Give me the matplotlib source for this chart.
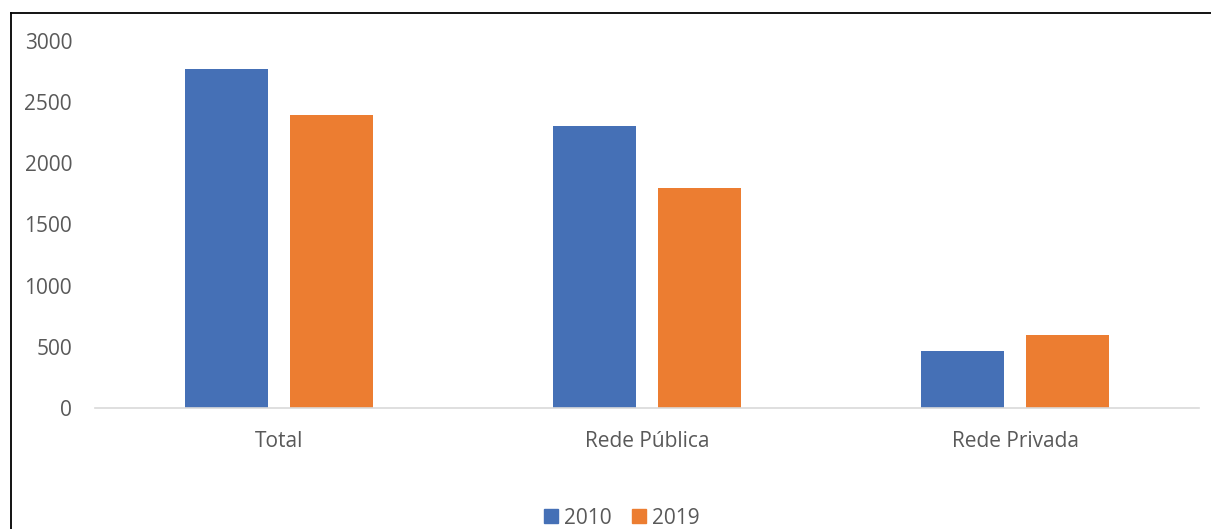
import matplotlib.pyplot as plt
from matplotlib.lines import Line2D
from matplotlib.patches import Patch
import numpy as np

categorias = ["Total", "Rede Pública", "Rede Privada"]
anos = ["2010", "2019"]
valores_2010 = [2770, 2300, 462]
valores_2019 = [2393, 1795, 593]

AZUL = "#4570B6"
LARANJA = "#EC7D31"
CINZA = "#595959"

plt.rcParams["font.family"] = ["Open Sans", "DejaVu Sans"]

W, H = 1211, 529
fig = plt.figure(figsize=(W / 100, H / 100), dpi=100)
ax = fig.add_axes([95 / W, 1 - 408 / H, (1199 - 95) / W, (408 - 40.7) / H])

x = np.arange(len(categorias))
larg = 0.224
desl = 0.1427
ax.bar(x - desl, valores_2010, larg, color=AZUL, label=anos[0])
ax.bar(x + desl, valores_2019, larg, color=LARANJA, label=anos[1])

ax.set_xlim(-0.5, 2.5)
ax.set_ylim(0, 3000)
ax.set_yticks(range(0, 3001, 500))
ax.set_xticks(x)
ax.set_xticklabels(categorias)
ax.tick_params(axis="both", length=0, labelsize=15, colors=CINZA)
ax.tick_params(axis="y", pad=16.5)
ax.tick_params(axis="x", pad=16.5)

for s in ["top", "right", "left"]:
    ax.spines[s].set_visible(False)
ax.spines["bottom"].set_color("#D9D9D9")
ax.spines["bottom"].set_linewidth(1.2)

handles = [Patch(color=AZUL), Patch(color=LARANJA)]
fig.legend(handles, anos, loc="center", bbox_to_anchor=(622 / W, 1 - 518 / H),
           ncol=2, frameon=False, fontsize=15, handlelength=0.65, handleheight=0.65,
           handletextpad=0.3, columnspacing=1.0, labelcolor=CINZA)

# moldura
fig.add_artist(Line2D([11 / W, 1], [1 - 13 / H, 1 - 13 / H], color="black", lw=1.3,
                      transform=fig.transFigure))
fig.add_artist(Line2D([11 / W, 11 / W], [0, 1 - 13 / H], color="black", lw=1.3,
                      transform=fig.transFigure))

fig.savefig("out.png", dpi=100)
